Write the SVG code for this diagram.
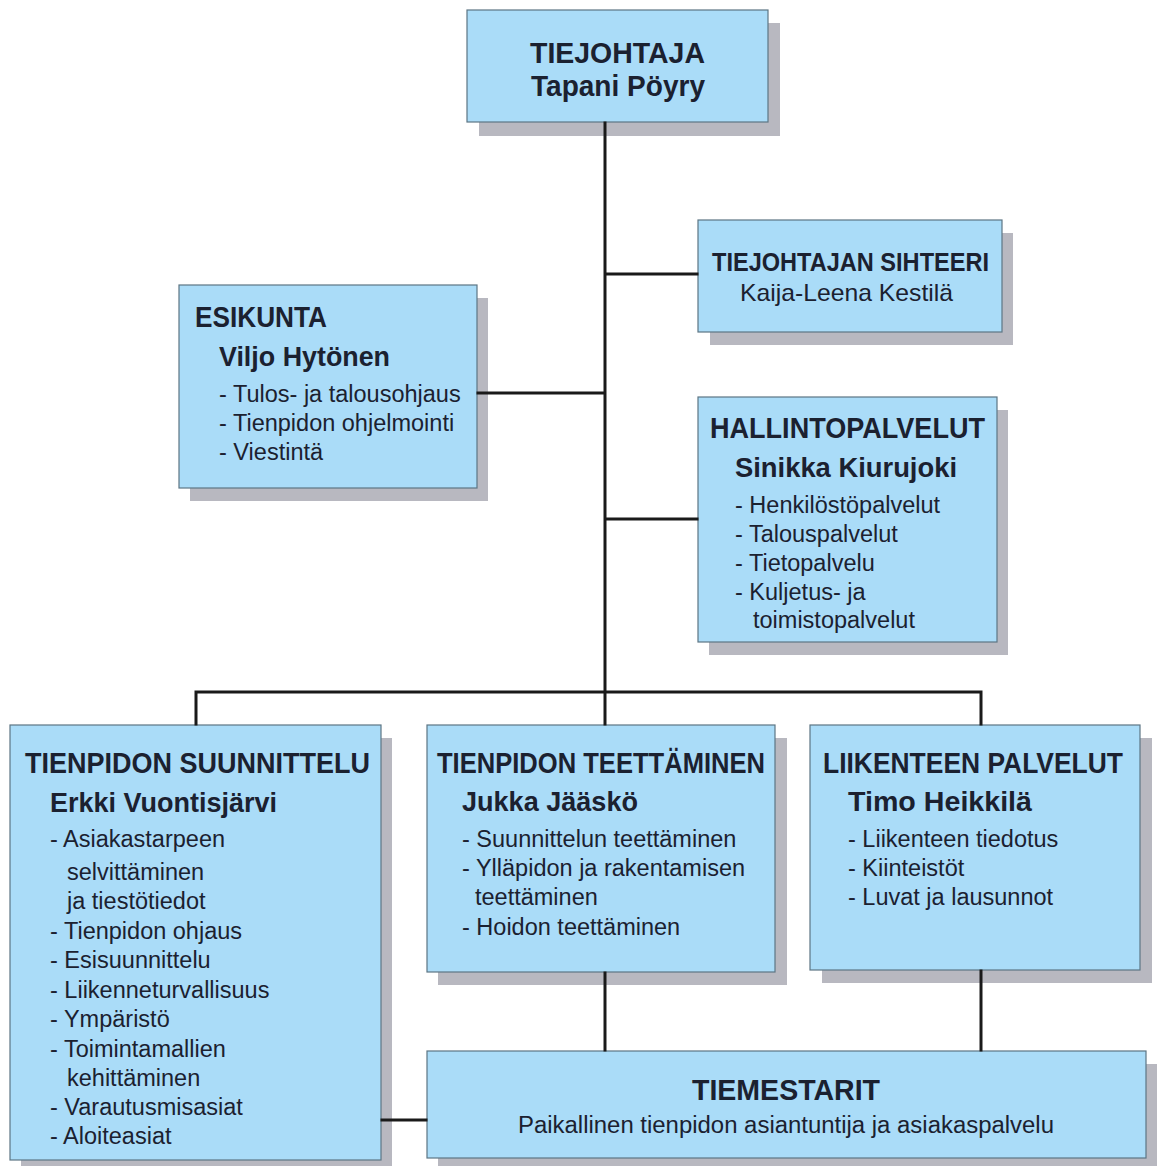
<svg xmlns="http://www.w3.org/2000/svg" width="1162" height="1166" viewBox="0 0 1162 1166">
<style>
  .box { fill: #aadcf8; stroke: #5c7584; stroke-width: 1.2; }
  .shadow { fill: #b8b8c0; }
  text { font-family: "Liberation Sans", Arial, sans-serif; fill: #1b2130; }
  .h { font-weight: bold; font-size: 29px; }
  .n { font-weight: bold; font-size: 28px; }
  .i { font-size: 23.5px; }
  .conn { stroke: #1a1a1a; stroke-width: 3; fill: none; stroke-linecap: square; }
</style>
<rect width="1162" height="1166" fill="#ffffff"/>

<g id="tiejohtaja">
  <rect class="shadow" x="479" y="23" width="301" height="113"/>
  <rect class="box" x="467" y="10" width="301" height="112"/>
  <text class="h" x="530" y="63" textLength="175" lengthAdjust="spacingAndGlyphs">TIEJOHTAJA</text>
  <text class="h" x="531" y="96" textLength="174" lengthAdjust="spacingAndGlyphs">Tapani Pöyry</text>
</g>

<g id="sihteeri">
  <rect class="shadow" x="710" y="233" width="303" height="112"/>
  <rect class="box" x="698" y="220" width="304" height="112"/>
  <text class="h" style="font-size:25px" x="712" y="271" textLength="277" lengthAdjust="spacingAndGlyphs">TIEJOHTAJAN SIHTEERI</text>
  <text style="font-size:24px" x="740" y="301" textLength="213" lengthAdjust="spacingAndGlyphs">Kaija-Leena Kestilä</text>
</g>

<g id="esikunta">
  <rect class="shadow" x="190" y="298" width="298" height="203"/>
  <rect class="box" x="179" y="285" width="298" height="203"/>
  <text class="h" x="195" y="327" textLength="132" lengthAdjust="spacingAndGlyphs">ESIKUNTA</text>
  <text class="n" x="219" y="366" textLength="171" lengthAdjust="spacingAndGlyphs">Viljo Hytönen</text>
  <text class="i" x="219" y="402">- Tulos- ja talousohjaus</text>
  <text class="i" x="219" y="431">- Tienpidon ohjelmointi</text>
  <text class="i" x="219" y="460">- Viestintä</text>
</g>

<g id="hallintopalvelut">
  <rect class="shadow" x="709" y="410" width="299" height="245"/>
  <rect class="box" x="698" y="397" width="299" height="245"/>
  <text class="h" x="710" y="438" textLength="275" lengthAdjust="spacingAndGlyphs">HALLINTOPALVELUT</text>
  <text class="n" x="735" y="477" textLength="222" lengthAdjust="spacingAndGlyphs">Sinikka Kiurujoki</text>
  <text class="i" x="735" y="513">- Henkilöstöpalvelut</text>
  <text class="i" x="735" y="542">- Talouspalvelut</text>
  <text class="i" x="735" y="571">- Tietopalvelu</text>
  <text class="i" x="735" y="600">- Kuljetus- ja</text>
  <text class="i" x="753" y="628">toimistopalvelut</text>
</g>

<g id="suunnittelu">
  <rect class="shadow" x="21" y="738" width="371" height="435"/>
  <rect class="box" x="10" y="725" width="371" height="435"/>
  <text class="h" x="25" y="773" textLength="345" lengthAdjust="spacingAndGlyphs">TIENPIDON SUUNNITTELU</text>
  <text class="n" x="50" y="812" textLength="227" lengthAdjust="spacingAndGlyphs">Erkki Vuontisjärvi</text>
  <text class="i" x="50" y="847">- Asiakastarpeen</text>
  <text class="i" x="67" y="880">selvittäminen</text>
  <text class="i" x="67" y="909">ja tiestötiedot</text>
  <text class="i" x="50" y="939">- Tienpidon ohjaus</text>
  <text class="i" x="50" y="968">- Esisuunnittelu</text>
  <text class="i" x="50" y="998">- Liikenneturvallisuus</text>
  <text class="i" x="50" y="1027">- Ympäristö</text>
  <text class="i" x="50" y="1057">- Toimintamallien</text>
  <text class="i" x="67" y="1086">kehittäminen</text>
  <text class="i" x="50" y="1115">- Varautusmisasiat</text>
  <text class="i" x="50" y="1144">- Aloiteasiat</text>
</g>

<g id="teettaminen">
  <rect class="shadow" x="438" y="738" width="349" height="247"/>
  <rect class="box" x="427" y="725" width="348" height="247"/>
  <text class="h" x="437" y="773" textLength="328" lengthAdjust="spacingAndGlyphs">TIENPIDON TEETTÄMINEN</text>
  <text class="n" x="462" y="811" textLength="176" lengthAdjust="spacingAndGlyphs">Jukka Jääskö</text>
  <text class="i" x="462" y="847">- Suunnittelun teettäminen</text>
  <text class="i" x="462" y="876">- Ylläpidon ja rakentamisen</text>
  <text class="i" x="475" y="905">teettäminen</text>
  <text class="i" x="462" y="935">- Hoidon teettäminen</text>
</g>

<g id="liikenteen-palvelut">
  <rect class="shadow" x="822" y="738" width="330" height="245"/>
  <rect class="box" x="810" y="725" width="330" height="245"/>
  <text class="h" x="823" y="773" textLength="300" lengthAdjust="spacingAndGlyphs">LIIKENTEEN PALVELUT</text>
  <text class="n" x="848" y="811" textLength="184" lengthAdjust="spacingAndGlyphs">Timo Heikkilä</text>
  <text class="i" x="848" y="847">- Liikenteen tiedotus</text>
  <text class="i" x="848" y="876">- Kiinteistöt</text>
  <text class="i" x="848" y="905">- Luvat ja lausunnot</text>
</g>

<g id="tiemestarit">
  <rect class="shadow" x="438" y="1064" width="719" height="108"/>
  <rect class="box" x="427" y="1051" width="719" height="107"/>
  <text class="h" x="692" y="1100" textLength="188" lengthAdjust="spacingAndGlyphs">TIEMESTARIT</text>
  <text style="font-size:23px" x="518" y="1133" textLength="536" lengthAdjust="spacingAndGlyphs">Paikallinen tienpidon asiantuntija ja asiakaspalvelu</text>
</g>

<g id="connectors" class="conn">
  <line x1="605" y1="123" x2="605" y2="724"/>
  <line x1="606" y1="274" x2="697" y2="274"/>
  <line x1="478" y1="393" x2="604" y2="393"/>
  <line x1="606" y1="519" x2="697" y2="519"/>
  <polyline points="196,724 196,692 981,692 981,724"/>
  <line x1="605" y1="973" x2="605" y2="1050"/>
  <line x1="981" y1="971" x2="981" y2="1050"/>
  <line x1="382" y1="1120" x2="426" y2="1120"/>
</g>
</svg>
